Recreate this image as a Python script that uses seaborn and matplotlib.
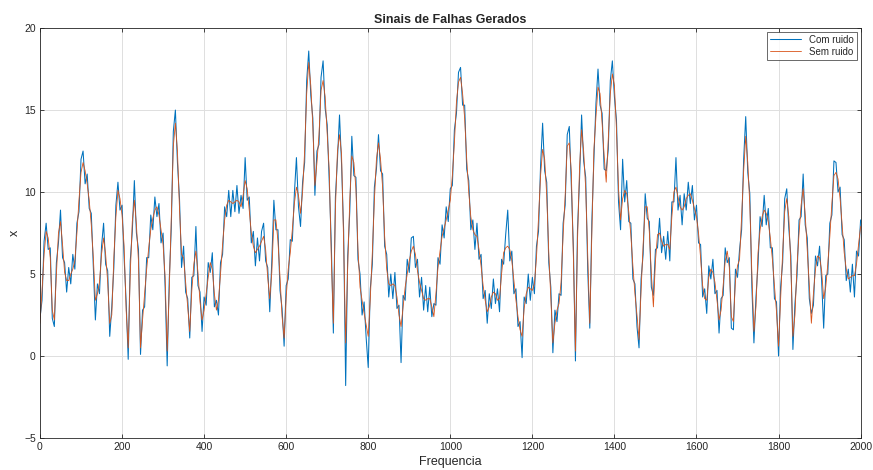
import numpy as np
import pandas as pd
import matplotlib
matplotlib.use("Agg")
import matplotlib.pyplot as plt
import seaborn as sns

# sample positions (every 5 units, 0..2000)
freq = np.arange(0, 2001, 5)

# signal without noise
sem_ruido = [
    2.0, 4.0, 6.2, 7.6, 7.2, 6.0, 2.8, 2.2, 5.0, 7.5, 8.2, 6.8, 5.1, 4.6, 4.6, 5.0, 5.3, 5.8, 7.5, 9.5,
    11.2, 11.8, 11.3, 10.5, 9.5, 8.0, 6.0, 3.4, 3.8, 4.5, 6.2, 7.2, 6.2, 4.5, 2.0, 2.5, 6.0, 8.5, 10.1, 9.6,
    8.6, 6.7, 2.8, 0.5, 5.0, 8.2, 9.5, 8.0, 5.8, 0.5, 2.2, 3.8, 5.3, 6.6, 7.7, 8.4, 8.9, 9.1, 8.6, 7.7,
    6.8, 4.8, 0.3, 4.0, 8.5, 12.8, 14.2, 12.5, 9.0, 6.2, 6.0, 4.5, 3.0, 1.5, 4.0, 5.6, 6.4, 5.1, 3.3, 2.2,
    2.8, 3.8, 4.8, 5.7, 5.3, 3.8, 2.8, 3.4, 5.0, 6.8, 8.3, 9.2, 9.5, 9.4, 9.3, 9.4, 9.5, 9.4, 9.1, 9.8,
    10.7, 10.2, 8.9, 7.5, 6.7, 6.3, 6.5, 6.7, 7.0, 7.3, 6.5, 4.8, 3.5, 5.1, 8.3, 8.3, 7.0, 4.8, 2.4, 1.1,
    3.6, 5.3, 6.3, 7.7, 9.3, 10.3, 9.8, 8.7, 10.0, 12.5, 16.0, 17.9, 16.5, 14.0, 10.4, 11.8, 13.5, 16.2, 16.8, 15.8,
    13.5, 11.3, 6.0, 2.0, 9.0, 12.5, 13.5, 12.3, 7.0, 0.8, 5.5, 9.5, 12.2, 11.8, 10.2, 6.5, 4.2, 3.4, 2.6, 1.9,
    1.2, 3.5, 6.3, 9.5, 12.0, 13.0, 12.0, 10.3, 7.3, 5.3, 4.4, 4.3, 4.4, 4.3, 3.6, 2.5, 1.8, 3.0, 4.2, 5.0,
    5.8, 6.4, 6.7, 6.2, 5.2, 4.5, 4.0, 3.5, 3.4, 3.5, 3.5, 3.0, 2.4, 3.8, 5.4, 6.4, 7.3, 7.8, 8.3, 8.9,
    9.5, 11.0, 13.0, 15.5, 16.7, 17.0, 16.0, 14.5, 12.0, 10.0, 8.5, 7.7, 7.4, 7.3, 6.5, 5.5, 4.3, 3.4, 2.7, 3.0,
    3.6, 3.9, 3.8, 3.4, 3.5, 5.0, 6.3, 6.6, 6.7, 6.5, 5.8, 4.6, 3.4, 2.4, 1.6, 1.2, 2.9, 3.8, 4.2, 4.1,
    4.0, 4.4, 6.0, 8.4, 11.0, 12.6, 12.0, 9.8, 6.3, 3.5, 0.8, 2.0, 2.8, 3.2, 4.5, 7.4, 9.8, 12.8, 13.0, 11.2,
    6.0, 0.3, 7.0, 11.5, 13.8, 12.5, 10.2, 6.0, 2.0, 7.5, 12.6, 14.6, 16.4, 16.0, 14.2, 12.2, 10.6, 13.2, 16.0, 17.2,
    16.5, 13.8, 10.2, 8.3, 9.6, 10.1, 9.9, 8.8, 7.4, 5.5, 3.8, 2.5, 1.0, 4.0, 6.8, 9.1, 9.1, 7.6, 5.0, 3.0,
    5.8, 7.4, 7.5, 7.0, 6.7, 6.8, 6.8, 6.5, 8.5, 10.0, 10.3, 9.7, 9.1, 8.9, 9.1, 9.6, 9.8, 9.9, 9.5, 9.0,
    8.5, 7.5, 6.0, 4.3, 3.5, 3.4, 4.8, 5.3, 5.1, 4.5, 3.4, 2.2, 2.8, 4.3, 5.8, 6.4, 5.4, 2.4, 2.1, 4.6,
    5.5, 5.9, 8.5, 11.3, 13.4, 11.8, 9.2, 5.0, 1.5, 3.0, 6.3, 7.7, 8.5, 8.9, 8.7, 8.2, 7.2, 5.9, 4.3, 2.7,
    0.6, 3.5, 6.3, 8.8, 9.6, 8.5, 5.5, 1.2, 2.5, 5.5, 7.5, 9.2, 10.2, 8.6, 6.5, 4.3, 2.0, 3.8, 5.3, 6.1,
    6.0, 5.2, 3.5, 4.2, 5.6, 7.3, 9.3, 11.0, 11.2, 10.8, 9.6, 8.0, 6.3, 5.3, 4.7, 4.8, 4.9, 4.9, 5.6, 6.8,
    7.9,
]

# noisy signal (upper/lower swing of the blue trace)
com_ruido = [
    2.3, 3.4, 7.0, 8.1, 6.5, 6.6, 2.3, 1.8, 5.7, 6.9, 8.9, 6.0, 5.7, 3.9, 5.4, 4.4, 6.2, 5.3, 8.1, 8.8,
    12.0, 12.5, 10.5, 11.1, 9.0, 8.7, 5.4, 2.2, 4.4, 3.8, 6.7, 8.1, 5.6, 5.2, 1.2, 3.0, 5.4, 9.2, 10.6, 8.9,
    9.2, 6.0, 3.3, -0.2, 5.8, 7.6, 10.7, 7.5, 6.5, 0.1, 2.8, 3.0, 6.0, 6.0, 8.6, 7.7, 9.7, 8.5, 9.3, 6.9,
    7.5, 4.2, -0.6, 4.6, 7.8, 13.7, 15.0, 11.8, 9.6, 5.4, 6.7, 3.9, 3.5, 1.1, 4.8, 4.9, 7.9, 4.3, 3.9, 1.5,
    3.6, 3.1, 5.7, 5.1, 6.3, 3.0, 3.4, 2.5, 5.7, 6.2, 9.1, 8.5, 10.1, 8.5, 10.1, 8.8, 10.4, 8.7, 9.8, 9.0,
    12.1, 9.5, 9.7, 6.9, 7.6, 5.5, 7.2, 5.8, 7.6, 8.1, 5.8, 5.4, 2.7, 5.8, 9.5, 7.7, 7.7, 4.0, 2.9, 0.6,
    4.3, 4.7, 7.1, 7.0, 9.9, 12.1, 9.1, 7.9, 10.6, 11.8, 16.8, 18.6, 15.9, 14.5, 9.8, 12.5, 12.9, 17.0, 18.0, 15.1,
    14.1, 10.6, 6.8, 1.4, 9.7, 12.0, 14.7, 11.7, 7.7, -1.8, 6.1, 8.8, 13.4, 11.0, 10.9, 5.9, 5.0, 2.5, 3.3, 1.1,
    -0.7, 4.1, 5.6, 10.3, 11.4, 13.5, 11.3, 11.1, 6.7, 6.2, 3.6, 5.0, 3.5, 5.1, 2.9, 3.1, -0.4, 3.7, 3.4, 5.9,
    5.1, 7.2, 7.3, 5.4, 5.9, 3.6, 4.8, 2.8, 4.3, 2.7, 4.2, 2.4, 3.2, 3.1, 6.0, 5.6, 8.0, 7.2, 9.1, 8.2,
    10.2, 10.4, 13.8, 14.8, 17.3, 17.6, 15.3, 15.3, 11.4, 10.7, 7.7, 8.3, 6.5, 8.1, 5.9, 6.2, 3.5, 4.0, 2.0, 3.8,
    2.9, 4.7, 3.2, 4.1, 2.7, 5.9, 5.6, 7.4, 8.9, 5.8, 6.4, 3.8, 4.1, 1.8, 2.1, -0.1, 3.6, 3.2, 5.0, 3.4,
    4.8, 3.8, 6.7, 7.6, 11.6, 14.2, 11.3, 10.6, 5.7, 4.2, 0.2, 2.8, 2.1, 3.8, 3.7, 8.1, 9.2, 13.5, 14.0, 10.4,
    6.6, -0.3, 7.7, 10.8, 14.7, 11.9, 10.9, 5.2, 1.7, 8.2, 12.0, 15.4, 17.5, 15.3, 14.8, 11.4, 11.3, 12.6, 16.8, 18.0,
    15.8, 14.4, 9.4, 7.7, 12.0, 9.4, 10.7, 8.2, 8.1, 4.7, 4.4, 1.8, 0.5, 4.7, 6.2, 9.9, 8.4, 8.2, 4.2, 3.7,
    6.5, 6.6, 8.4, 6.3, 7.3, 5.9, 7.6, 5.8, 9.4, 9.4, 12.1, 8.9, 9.8, 8.0, 9.9, 8.9, 10.6, 9.3, 10.4, 8.3,
    9.2, 6.9, 6.8, 3.6, 4.1, 2.6, 5.5, 4.7, 5.9, 3.8, 4.0, 1.4, 3.5, 3.7, 6.6, 5.7, 6.0, 1.7, 1.6, 5.3,
    4.8, 6.5, 7.7, 12.0, 14.6, 11.2, 9.9, 4.2, 0.8, 3.6, 5.6, 8.5, 7.9, 9.8, 8.0, 9.0, 6.6, 6.6, 3.5, 3.3,
    0.0, 4.2, 5.7, 9.6, 10.2, 7.8, 6.1, 0.4, 3.2, 4.9, 8.3, 8.5, 11.1, 8.0, 7.2, 3.5, 2.6, 3.1, 6.1, 5.5,
    6.7, 4.6, 1.7, 4.9, 5.0, 8.1, 8.6, 11.9, 11.8, 10.0, 10.3, 7.4, 7.1, 4.6, 5.3, 3.9, 5.6, 3.6, 6.4, 6.1,
    8.3,
]

df = pd.DataFrame({"Frequencia": freq, "Com ruido": com_ruido, "Sem ruido": sem_ruido})

sns.set_style("whitegrid")
plt.rcParams["font.family"] = ["Liberation Sans", "DejaVu Sans"]

fig = plt.figure(figsize=(8.73, 4.70), dpi=100)
ax = fig.add_axes([0.0458, 0.068, 0.9400, 0.8723])

sns.lineplot(data=df, x="Frequencia", y="Com ruido", color="#0072BD", linewidth=0.75,
             estimator=None, ax=ax, label="Com ruido")
sns.lineplot(data=df, x="Frequencia", y="Sem ruido", color="#D95319", linewidth=0.6,
             estimator=None, ax=ax, label="Sem ruido")

ax.set_xlim(0, 2000)
ax.set_ylim(-5, 20)
ax.set_xticks(np.arange(0, 2001, 200))
ax.set_yticks(np.arange(-5, 21, 5))
ax.grid(True, color="#dedede", linewidth=0.7)
for s in ax.spines.values():
    s.set_color("#262626")
    s.set_linewidth(0.6)
ax.tick_params(direction="in", length=3, width=0.6, colors="#262626", labelsize=7.5,
               top=True, right=True, bottom=True, left=True, pad=3)

ax.set_title("Sinais de Falhas Gerados", fontsize=9, fontweight="bold", pad=4)
ax.set_xlabel("Frequencia", fontsize=9, labelpad=3)
ax.set_ylabel("x", fontsize=9, labelpad=2)

leg = ax.legend(loc="upper right", fontsize=7, frameon=True, fancybox=False,
                borderaxespad=0.4, handlelength=3.2, borderpad=0.3, labelspacing=0.2)
leg.get_frame().set_edgecolor("#262626")
leg.get_frame().set_linewidth(0.6)

fig.savefig("out.png", dpi=100)
